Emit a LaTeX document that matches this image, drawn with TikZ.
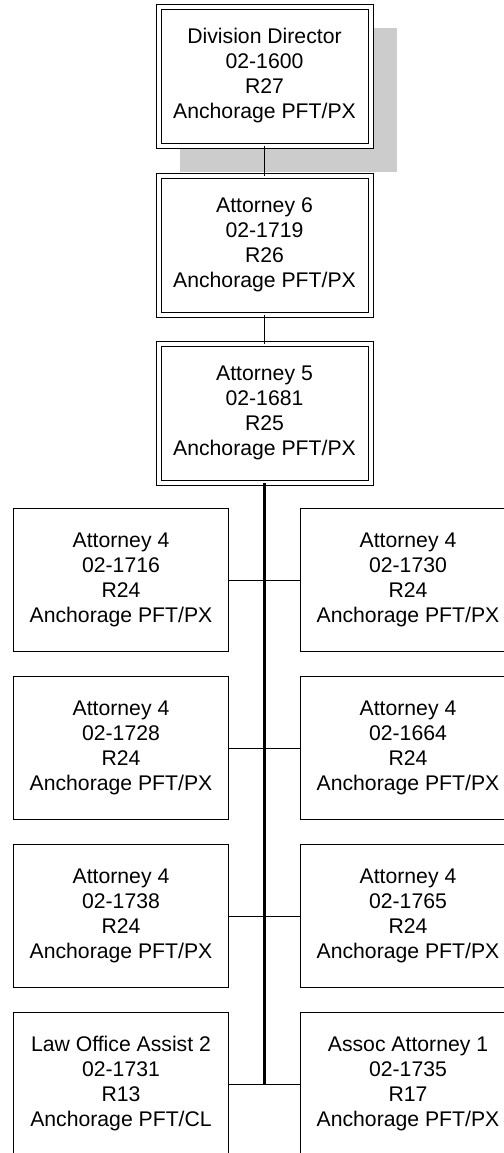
\documentclass[tikz,border=0pt]{standalone}
\usepackage{fontspec}
\setmainfont{Liberation Sans}
\usetikzlibrary{backgrounds}
\tikzset{
  unit/.style={draw, line width=0.5pt, fill=white, align=center, inner sep=0pt, outer sep=0pt,
    minimum width=107.5pt, minimum height=71.5pt, font=\fontsize{10.6}{12.5}\selectfont},
  dunit/.style={unit, double, double distance=2pt, minimum width=106pt, minimum height=69.5pt},
  link/.style={line width=0.5pt},
  trunk/.style={line width=1.5pt}
}
\begin{document}
\begin{tikzpicture}[x=0.5pt,y=-0.5pt]
\useasboundingbox (0,0) rectangle (504,1153);

\node[dunit] (d1) at (264.5,76) {Division Director\\02-1600\\R27\\Anchorage PFT/PX};
\node[dunit] (d2) at (264.5,245) {Attorney 6\\02-1719\\R26\\Anchorage PFT/PX};
\node[dunit] (d3) at (264.5,413) {Attorney 5\\02-1681\\R25\\Anchorage PFT/PX};

\begin{scope}[on background layer]
\fill[black!20] ([xshift=10.75pt,yshift=-10.75pt]d1.north west) rectangle ([xshift=13.25pt,yshift=-13.25pt]d1.south east);
\end{scope}

\node[unit] (l1) at (121,580) {Attorney 4\\02-1716\\R24\\Anchorage PFT/PX};
\node[unit] (r1) at (408,580) {Attorney 4\\02-1730\\R24\\Anchorage PFT/PX};
\node[unit] (l2) at (121,748) {Attorney 4\\02-1728\\R24\\Anchorage PFT/PX};
\node[unit] (r2) at (408,748) {Attorney 4\\02-1664\\R24\\Anchorage PFT/PX};
\node[unit] (l3) at (121,916) {Attorney 4\\02-1738\\R24\\Anchorage PFT/PX};
\node[unit] (r3) at (408,916) {Attorney 4\\02-1765\\R24\\Anchorage PFT/PX};
\node[unit] (l4) at (121,1084) {Law Office Assist 2\\02-1731\\R13\\Anchorage PFT/CL};
\node[unit] (r4) at (408,1084) {Assoc Attorney 1\\02-1735\\R17\\Anchorage PFT/PX};

\coordinate (tend) at (264.5,1084);

\draw[link] (d1) -- (d2);
\draw[link] (d2) -- (d3);
\draw[trunk] (d3.south) -- (tend);
\draw[link] (l1.east) -- (r1.west);
\draw[link] (l2.east) -- (r2.west);
\draw[link] (l3.east) -- (r3.west);
\draw[link] (l4.east) -- (r4.west);
\end{tikzpicture}
\end{document}
